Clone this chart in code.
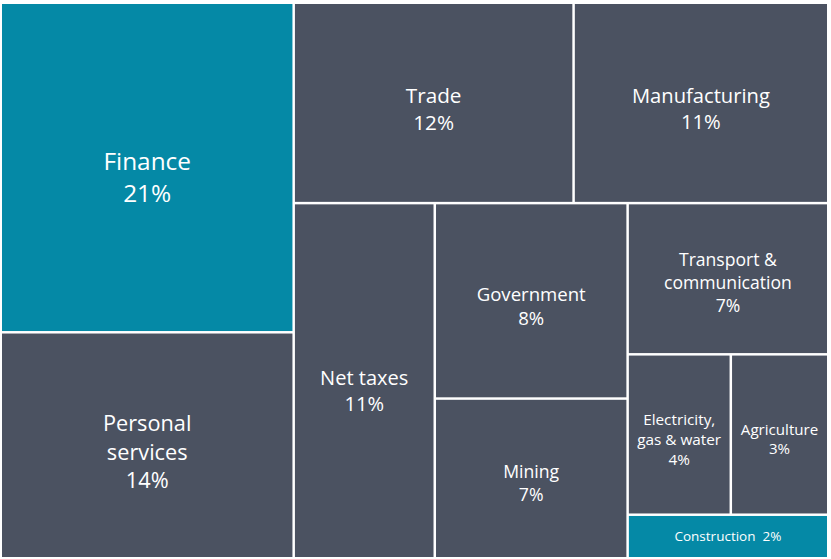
<!DOCTYPE html>
<html>
<head>
<meta charset="utf-8">
<script src="https://cdn.jsdelivr.net/npm/d3@7"></script>
<style>
  body { margin: 0; background: #fff; }
  text { font-family: "Open Sans", "Noto Sans", sans-serif; fill: #fff; }
</style>
</head>
<body>
<div id="chart"></div>
<script>
// sector shares of GDP (%)
const sectors = [
  "Finance", "Personal\nservices", "Trade", "Manufacturing", "Net taxes",
  "Government", "Mining", "Transport &\ncommunication",
  "Electricity,\ngas & water", "Agriculture", "Construction"
];
const shares = [21.0, 14.4, 12.2, 11.1, 10.9, 8.2, 6.7, 6.6, 3.6, 3.4, 1.9];
// where each sector sits in the nested slice/dice layout
const blocks = [
  "left", "left", "right/top", "right/top", "right/bottom",
  "right/bottom/public", "right/bottom/public", "right/bottom/utilities",
  "right/bottom/utilities/pair", "right/bottom/utilities/pair", "right/bottom/utilities"
];
const highlighted = ["Finance", "Construction"];

const width = 831;
const height = 559;
const margin = { top: 4, right: 4, bottom: 2, left: 2 };

function nest() {
  const root = { key: "root", children: [] };
  sectors.forEach((name, i) => {
    let node = root;
    blocks[i].split("/").forEach((key) => {
      let child = node.children.find((c) => c.key === key);
      if (!child) {
        child = { key: key, children: [] };
        node.children.push(child);
      }
      node = child;
    });
    node.children.push({ name: name, value: shares[i] });
  });
  return root;
}

const root = d3.hierarchy(nest()).sum((d) => d.value || 0);

d3.treemap()
  .tile(d3.treemapSliceDice)
  .size([width - margin.left - margin.right, height - margin.top - margin.bottom])
  .paddingInner(2.5)
  .round(false)(root);

const svg = d3
  .select("#chart")
  .append("svg")
  .attr("width", width)
  .attr("height", height)
  .append("g")
  .attr("transform", "translate(" + margin.left + "," + margin.top + ")");

const cell = svg
  .selectAll("g.cell")
  .data(root.leaves())
  .enter()
  .append("g")
  .attr("class", "cell");

cell
  .append("rect")
  .attr("x", (d) => d.x0)
  .attr("y", (d) => d.y0)
  .attr("width", (d) => d.x1 - d.x0)
  .attr("height", (d) => d.y1 - d.y0)
  .attr("fill", (d) => (highlighted.includes(d.data.name) ? "#0589a6" : "#4b5261"));

cell.each(function (d) {
  const w = d.x1 - d.x0;
  const h = d.y1 - d.y0;
  const size = 9 + Math.sqrt(w * h) / 20;
  const pct = Math.round(d.data.value) + "%";
  // flat tiles get a single line
  const lines = h < 60 ? [d.data.name + "\u00a0\u00a0" + pct] : d.data.name.split("\n").concat([pct]);
  const lh = size * 1.3;
  const cx = (d.x0 + d.x1) / 2;
  const cy = (d.y0 + d.y1) / 2 + (h < 60 ? 0 : h * 0.03);
  const text = d3
    .select(this)
    .append("text")
    .attr("text-anchor", "middle")
    .style("font-size", size + "px");
  lines.forEach((line, i) => {
    text
      .append("tspan")
      .attr("x", cx)
      .attr("y", cy + (i - (lines.length - 1) / 2) * lh)
      .attr("dy", "0.35em")
      .text(line);
  });
});
</script>
</body>
</html>
